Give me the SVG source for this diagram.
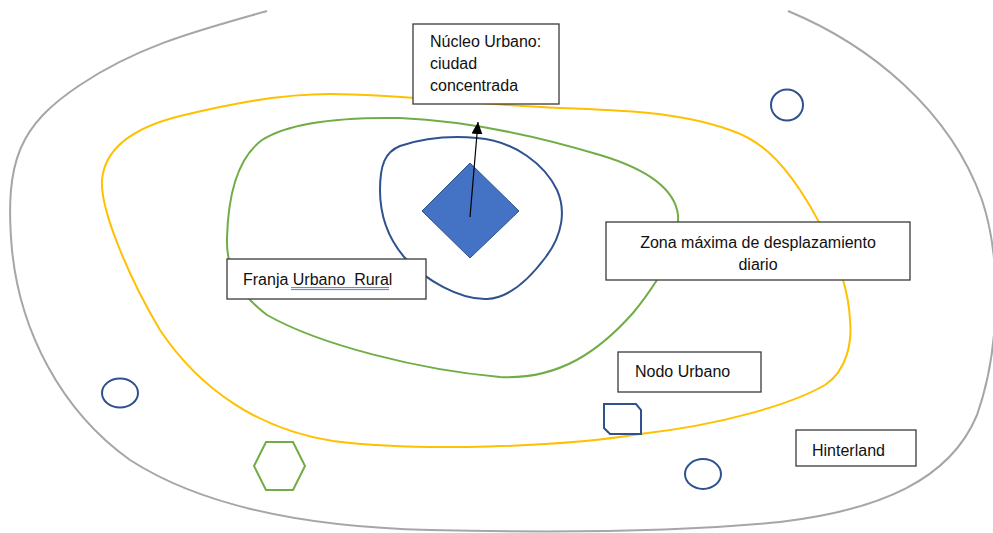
<svg xmlns="http://www.w3.org/2000/svg" width="993" height="533" viewBox="0 0 993 533">
<defs>
<style>
.zone{fill:none;stroke-width:2}
.box{fill:#fff;stroke:#3a3a3a;stroke-width:1.3}
.lbl{font-family:"Liberation Sans",Arial,sans-serif;font-size:16px;fill:#111;white-space:pre}
.node{fill:none;stroke:#2F528F;stroke-width:2}
</style>
<marker id="ah" markerUnits="userSpaceOnUse" markerWidth="12" markerHeight="12" viewBox="0 0 12 12" refX="12" refY="6" orient="auto">
<path d="M0,0.5 L12,6 L0,11.5 Z" fill="#000"/>
</marker>
</defs>
<rect width="993" height="533" fill="#fff"/>
<g id="zones">
<path id="hinterland-zone" class="zone" stroke="#A6A6A6" d="M788,11 C870,45 950,110 982,200 C1002,260 1000,350 977,415 C950,480 880,510 780,522 C680,532 560,533 430,530 C300,527 200,505 130,460 C60,410 20,330 12,250 C4,160 20,125 80,85 C140,45 200,30 267,11"/>
<path id="commute-zone" class="zone" stroke="#FFC000" d="M560,108 C480,105 400,94 330,94 C280,94 230,104 180,116 C140,126 105,145 102,180 C100,210 130,280 160,330 C200,390 260,430 333,441 C420,452 560,447 640,434 C720,425 790,405 825,385 C848,370 852,340 850,320 C849,300 846,290 843,280 C835,255 820,220 800,190 C780,160 760,140 730,130 C680,112 620,110 560,108 Z"/>
<path id="fringe-zone" class="zone" stroke="#70AD47" d="M400,118 C340,117 290,122 262,140 C235,160 228,200 227,238 C226,270 240,295 267,315 C320,345 420,370 500,377 C560,380 600,350 633,313 C660,280 680,245 678,215 C675,190 650,170 600,155 C540,137 470,121 400,118 Z"/>
<path id="core-zone" class="zone" stroke="#2F528F" d="M400,146 C430,136 455,136 477,138 C515,141 545,165 557,190 C566,210 563,235 545,258 C530,278 510,298 487,299 C460,300 425,280 405,258 C385,235 380,210 380,190 C380,165 385,152 400,146 Z"/>
</g>
<g id="city-core">
<polygon points="470,163 519,211 470,258 422,211" fill="#4472C4" stroke="#2F528F" stroke-width="1"/>
</g>
<g id="urban-nodes">
<ellipse id="node-circle-1" class="node" cx="787" cy="105" rx="16" ry="15.5"/>
<ellipse id="node-circle-2" class="node" cx="120" cy="393" rx="18" ry="14.5"/>
<ellipse id="node-circle-3" class="node" cx="703" cy="474" rx="18" ry="15"/>
<path id="node-snip" class="node" d="M604,404 H636 L641,410 V434 H610 L604,428 Z"/>
<polygon id="node-hexagon" points="254,466 266,442 293,442 305,466 293,490 266,490" fill="none" stroke="#70AD47" stroke-width="2"/>
</g>
<g id="connectors">
<line x1="470" y1="217" x2="478" y2="122" stroke="#000" stroke-width="1.2" marker-end="url(#ah)"/>
</g>
<g id="label-nucleo">
<rect class="box" x="413" y="24" width="146" height="80"/>
<text class="lbl" x="430" y="47">Núcleo Urbano:</text>
<text class="lbl" x="430" y="69">ciudad</text>
<text class="lbl" x="430" y="91">concentrada</text>
</g>
<g id="label-franja">
<rect class="box" x="227" y="259" width="199" height="40"/>
<text class="lbl" x="243" y="285">Franja Urbano  Rural</text>
<line x1="291" y1="287.6" x2="389" y2="287.6" stroke="#4472C4" stroke-width="0.9"/>
<line x1="291" y1="289.6" x2="389" y2="289.6" stroke="#4472C4" stroke-width="0.9"/>
</g>
<g id="label-zona">
<rect class="box" x="606" y="222" width="304" height="58"/>
<text class="lbl" x="758" y="248" text-anchor="middle">Zona máxima de desplazamiento</text>
<text class="lbl" x="758" y="270" text-anchor="middle">diario</text>
</g>
<g id="label-nodo">
<rect class="box" x="618" y="352" width="143" height="40"/>
<text class="lbl" x="635" y="377">Nodo Urbano</text>
</g>
<g id="label-hinterland">
<rect class="box" x="796" y="430" width="120" height="36"/>
<text class="lbl" x="812" y="456">Hinterland</text>
</g>
</svg>
